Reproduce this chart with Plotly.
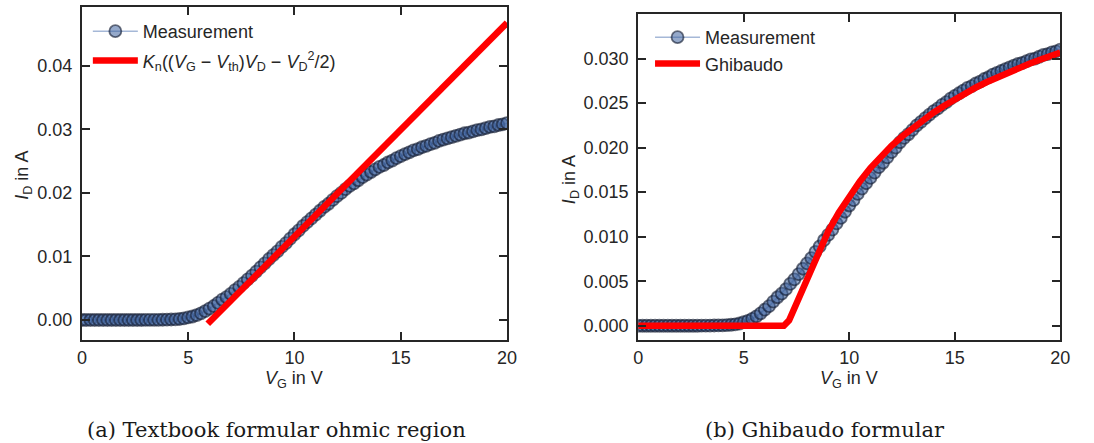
import plotly.graph_objects as go

# Measured transfer characteristic: gate voltage (V) and drain current (A)
vg_meas = [round(i * 0.2, 1) for i in range(101)]
id_meas = [
    0.0, 0.0, 0.0, 0.0, 0.0, 0.0, 0.0, 0.0, 0.0, 0.0, 0.0, 0.0, 0.0, 0.0, 0.0,
    0.00001, 0.00001, 0.00002, 0.00003, 0.00004,
    0.00005, 0.00008, 0.00011, 0.00016, 0.00025,
    0.0004, 0.00055, 0.00078, 0.00105, 0.0014,
    0.0018, 0.0022, 0.0027, 0.0032, 0.0036,
    0.0041, 0.0047, 0.0052, 0.0058, 0.0064,
    0.0070, 0.0076, 0.0083, 0.0089, 0.0096,
    0.0102, 0.0108, 0.0115, 0.0121, 0.0128,
    0.0135, 0.0141, 0.0148, 0.0154, 0.0160,
    0.0166, 0.0172, 0.0178, 0.0183, 0.0189,
    0.0195, 0.0200, 0.0206, 0.0211, 0.0215,
    0.0220, 0.0225, 0.0229, 0.0233, 0.0237,
    0.0241, 0.0244, 0.0248, 0.0251, 0.0255,
    0.0258, 0.0261, 0.0264, 0.0267, 0.0269,
    0.0272, 0.0274, 0.0277, 0.0279, 0.0282,
    0.0284, 0.0286, 0.0288, 0.0290, 0.0292,
    0.0294, 0.0295, 0.0297, 0.0299, 0.0300,
    0.0302, 0.0304, 0.0305, 0.0307, 0.0308,
    0.0310,
]
assert len(vg_meas) == len(id_meas)

# Textbook ohmic-region model (linear in V_G)
vg_textbook = [5.92, 20.0]
id_textbook = [-0.0006, 0.0468]

# Ghibaudo model
vg_ghibaudo = [0.0, 6.9, 7.15, 8.0, 8.5, 9.0, 9.5, 10.0, 10.5, 11.0, 11.5, 12.0,
               12.5, 13.0, 13.5, 14.0, 14.5, 15.0, 15.5, 16.0, 16.5, 17.0,
               17.5, 18.0, 18.5, 19.0, 19.5, 20.0]
id_ghibaudo = [0.0, 0.0, 0.0006, 0.0053, 0.0080, 0.0106, 0.0127, 0.0146, 0.0162,
               0.0177, 0.0190, 0.0202, 0.02125, 0.02222, 0.02311, 0.02394,
               0.02471, 0.02544, 0.02612, 0.02675, 0.02734, 0.0279, 0.02843,
               0.02892, 0.02939, 0.02984, 0.03027, 0.03068]
assert len(vg_ghibaudo) == len(id_ghibaudo)

left_yticks = [0.00, 0.01, 0.02, 0.03, 0.04]
right_yticks = [0.000, 0.005, 0.010, 0.015, 0.020, 0.025, 0.030]
xticks = [0, 5, 10, 15, 20]

W, H = 1094, 443
INK = "#262626"
FONT = "Liberation Sans, Arial, sans-serif"
SERIF = "DejaVu Serif, serif"
FS = 18

MEAS_FILL = "rgba(62,98,158,0.55)"
MEAS_EDGE = "rgba(20,28,48,0.62)"
MEAS_LINE = "rgba(76,114,176,0.5)"
RED = "#ff0000"

formula = ("<i>K</i><sub>n</sub>((<i>V</i><sub>G</sub> − <i>V</i><sub>th</sub>)"
           "<i>V</i><sub>D</sub> − <i>V</i><sub>D</sub><sup>2</sup>/2)")


def px_x(a, b):
    return [a / W, b / W]


def px_y(top, bottom):
    return [1 - bottom / H, 1 - top / H]


fig = go.Figure()

meas_style = dict(
    mode="lines+markers",
    line=dict(color=MEAS_LINE, width=1.5),
    marker=dict(size=12, color=MEAS_FILL, line=dict(color=MEAS_EDGE, width=1.8)),
)

fig.add_trace(go.Scatter(x=vg_meas, y=id_meas, name="Measurement", legendgroup="m1",
                         xaxis="x", yaxis="y", legend="legend", **meas_style))
fig.add_trace(go.Scatter(x=vg_textbook, y=id_textbook, name=formula, mode="lines",
                         legendgroup="t1", line=dict(color=RED, width=6.5),
                         xaxis="x", yaxis="y", legend="legend"))
fig.add_trace(go.Scatter(x=vg_meas, y=id_meas, name="Measurement", legendgroup="m2",
                         xaxis="x2", yaxis="y2", legend="legend2", **meas_style))
fig.add_trace(go.Scatter(x=vg_ghibaudo, y=id_ghibaudo, name="Ghibaudo", mode="lines",
                         legendgroup="g2", line=dict(color=RED, width=6.5),
                         xaxis="x2", yaxis="y2", legend="legend2"))

axis_common = dict(
    showline=True, linewidth=2, linecolor=INK, mirror="ticks",
    ticks="inside", ticklen=8, tickwidth=1.5, tickcolor=INK,
    showgrid=False, zeroline=False,
    tickfont=dict(family=FONT, size=FS, color=INK),
)

legend_common = dict(
    xanchor="left", yanchor="top", bgcolor="rgba(0,0,0,0)", itemwidth=45,
    font=dict(family=FONT, size=FS, color=INK),
)

fig.update_layout(
    width=W, height=H,
    margin=dict(l=0, r=0, t=0, b=0),
    paper_bgcolor="white", plot_bgcolor="white",
    font=dict(family=FONT, size=FS, color=INK),
    xaxis=dict(domain=px_x(78, 509), range=[0, 20], tickvals=xticks,
               anchor="y", **axis_common),
    yaxis=dict(domain=px_y(7, 340), range=[-0.00315, 0.04928],
               tickvals=left_yticks, tickformat=".2f", anchor="x",
               ticklabelstandoff=4, **axis_common),
    xaxis2=dict(domain=px_x(642, 1070), range=[0, 20], tickvals=xticks,
                anchor="y2", **axis_common),
    yaxis2=dict(domain=px_y(14, 340), range=[-0.0016, 0.0350],
                tickvals=right_yticks, tickformat=".3f", anchor="x2",
                ticklabelstandoff=4, **axis_common),
    legend=dict(x=84 / W, y=1 - 13 / H, tracegroupgap=3, **legend_common),
    legend2=dict(x=654 / W, y=1 - 19 / H, tracegroupgap=0, **legend_common),
    showlegend=True,
)

ytitle = "<i>I</i><sub>D</sub> in A"
xtitle = "<i>V</i><sub>G</sub> in V"
title_font = dict(family=FONT, size=FS, color=INK)

annotations = [
    dict(text=ytitle, x=18 / W, y=1 - 175 / H, textangle=-90),
    dict(text=ytitle, x=574 / W, y=1 - 180 / H, textangle=-90),
    dict(text=xtitle, x=293 / W, y=1 - 379 / H),
    dict(text=xtitle, x=856 / W, y=1 - 379 / H),
]
for a in annotations:
    fig.add_annotation(xref="paper", yref="paper", showarrow=False,
                       xanchor="center", yanchor="middle", font=title_font, **a)

captions = [
    ("(a) Textbook formular ohmic region", 275),
    ("(b) Ghibaudo formular", 831),
]
for text, cx in captions:
    fig.add_annotation(text=text, xref="paper", yref="paper", x=cx / W, y=1 - 430 / H,
                       showarrow=False, xanchor="center", yanchor="middle",
                       font=dict(family=SERIF, size=21, color="#1a1a1a"))

fig.write_html("out.html")
